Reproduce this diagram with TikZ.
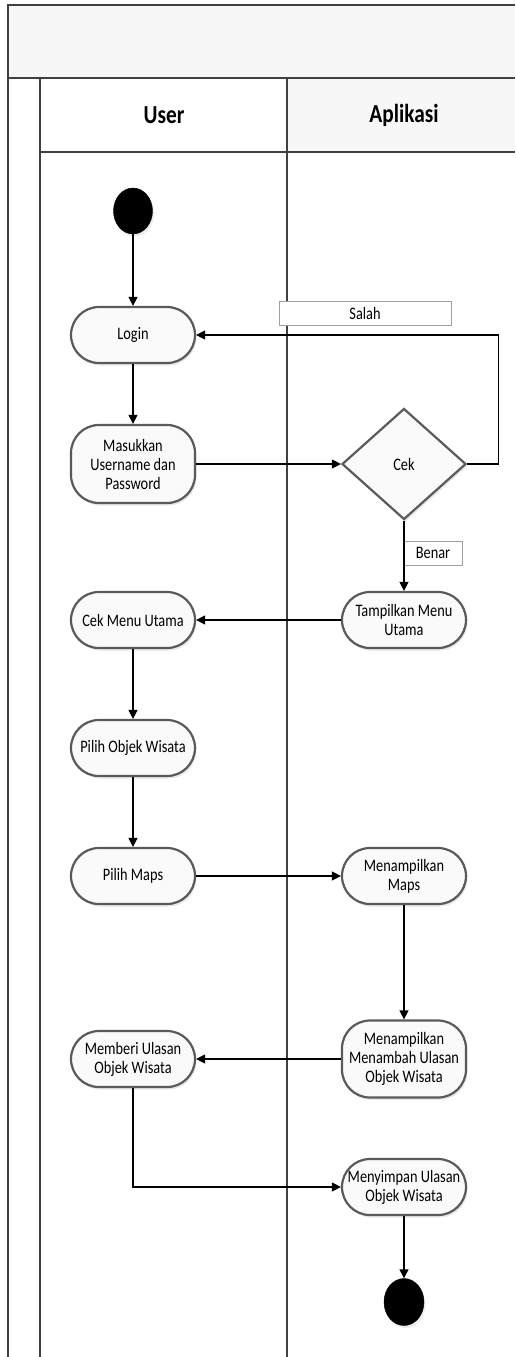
\documentclass[tikz,border=0pt]{standalone}
\usepackage{fontspec}
\setmainfont{Carlito}[FakeStretch=0.82]
\usepackage{tikz}
\usepackage{xcolor}
\usetikzlibrary{positioning,shapes,shadows,arrows.meta}
\definecolor{garis}{HTML}{404040}
\definecolor{tepi}{HTML}{5A5A5A}
\tikzset{
  basic/.style    = {draw=tepi, line width=2.2pt, fill=gray!4,
                     font=\fontsize{17.5}{19}\selectfont,
                     drop shadow={opacity=0.18, shadow xshift=1.5pt, shadow yshift=-2.5pt}},
  activity/.style = {basic, rectangle, rounded corners=28pt, align=center,
                     minimum width=124pt, minimum height=56pt, inner sep=2pt},
  decision/.style = {basic, diamond, aspect=1.12, minimum width=124pt,
                     minimum height=111pt, inner sep=0pt},
  state/.style    = {ellipse, draw=black, fill=black, minimum width=39pt,
                     minimum height=46pt, inner sep=0pt,
                     drop shadow={opacity=0.15, shadow xshift=1.5pt, shadow yshift=-2.5pt}},
  guard/.style    = {draw=gray!75, line width=0.8pt, fill=white,
                     font=\fontsize{17.5}{19}\selectfont, minimum height=24pt, inner sep=1pt},
  lane/.style     = {draw=garis, line width=2pt},
  header/.style   = {font=\fontsize{26}{28}\selectfont\bfseries}
}

\begin{document}
\begin{tikzpicture}[x=1pt, y=-1pt,
  >={Triangle[length=9pt,width=9pt]}]

\useasboundingbox (0,0) rectangle (515,1357);
\clip (0,0) rectangle (515,1357);

% swimlane frame
\fill[gray!6] (8,5) rectangle (515,78);
\fill[gray!6] (287,78) rectangle (515,152);
\draw[lane] (515,5) -- (8,5) -- (8,1357);
\draw[lane] (8,78) -- (515,78);
\draw[lane] (40,78) -- (40,1357);
\draw[lane] (40,152) -- (515,152);
\draw[lane] (287,78) -- (287,1357);

% lane headers
\node[header] (user) at (164,115) {User};
\node[header] (aplikasi) at (404,115) {Aplikasi};

% lane User
\node[state] (start) at (133,211) {};
\node[activity] (login) at (133,335) {Login};
\node[activity, minimum height=78pt] (masuk) at (133,464) {Masukkan\\Username dan\\Password};
\node[activity] (cekmenu) at (133,620) {Cek Menu Utama};
\node[activity] (pilihobj) at (133,748) {Pilih Objek Wisata};
\node[activity] (pilihmaps) at (133,876) {Pilih Maps};
\node[activity] (memberi) at (133,1059) {Memberi Ulasan\\Objek Wisata};

% lane Aplikasi
\node[decision] (cek) at (404,464) {Cek};
\node[activity] (tampil) at (404,620) {Tampilkan Menu\\Utama};
\node[activity] (tmaps) at (404,876) {Menampilkan\\Maps};
\node[activity, minimum height=77pt] (tulasan) at (404,1059) {Menampilkan\\Menambah Ulasan\\Objek Wisata};
\node[activity] (simpan) at (404,1187) {Menyimpan Ulasan\\Objek Wisata};
\node[state, minimum width=40pt, minimum height=47pt] (end) at (404,1302) {};

% guards
\node[guard, minimum width=172pt] (salah) at (365,313) {Salah};
\node[guard, minimum width=58pt] (benar) at (433,553) {Benar};

% flow
\begin{scope}[line width=1.2pt]
  \draw[->] (start) -- (login);
  \draw[->] (login) -- (masuk);
  \draw[->] (masuk) -- (cek);
  \draw[->] (cek.east) -- ++(31,0) |- (login.east);
  \draw[->] (cek) -- (tampil);
  \draw[->] (tampil) -- (cekmenu);
  \draw[->] (cekmenu) -- (pilihobj);
  \draw[->] (pilihobj) -- (pilihmaps);
  \draw[->] (pilihmaps) -- (tmaps);
  \draw[->] (tmaps) -- (tulasan);
  \draw[->] (tulasan) -- (memberi);
  \draw[->] (memberi) |- (simpan);
  \draw[->] (simpan) -- (end);
\end{scope}

\end{tikzpicture}
\end{document}
